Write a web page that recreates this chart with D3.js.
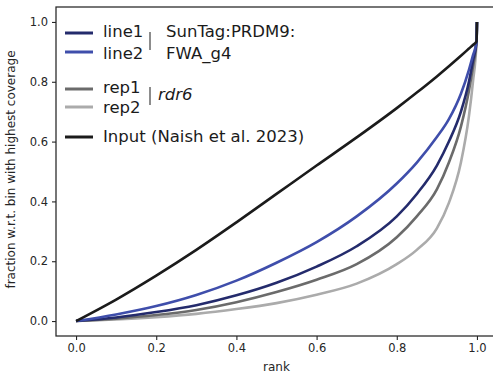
<!DOCTYPE html>
<html>
<head>
<meta charset="utf-8">
<script src="https://cdn.jsdelivr.net/npm/d3@7"></script>
<style>
  body { margin: 0; background: #fff; }
  svg text { font-family: "DejaVu Sans", sans-serif; }
</style>
</head>
<body>
<div id="chart"></div>
<script>
const WIDTH = 493, HEIGHT = 377;
const MARGIN = {left: 56, right: -4, top: 7, bottom: 41};

const rank = [0, 0.1, 0.2, 0.3, 0.4, 0.5, 0.6, 0.7, 0.8, 0.85, 0.9, 0.93, 0.96, 0.98, 0.99, 0.999, 1.0];
const line1 = [0, 0.012, 0.03, 0.053, 0.086, 0.128, 0.182, 0.25, 0.35, 0.425, 0.52, 0.6, 0.7, 0.8, 0.87, 0.935, 1.0];
const line2 = [0, 0.022, 0.05, 0.087, 0.135, 0.195, 0.264, 0.35, 0.46, 0.53, 0.615, 0.675, 0.76, 0.84, 0.888, 0.935, 1.0];
const rep1 = [0, 0.008, 0.02, 0.037, 0.063, 0.097, 0.138, 0.19, 0.28, 0.35, 0.44, 0.53, 0.65, 0.77, 0.85, 0.935, 1.0];
const rep2 = [0, 0.005, 0.013, 0.024, 0.04, 0.06, 0.088, 0.125, 0.19, 0.238, 0.31, 0.395, 0.53, 0.685, 0.8, 0.935, 1.0];
const input = [0, 0.072, 0.152, 0.238, 0.33, 0.425, 0.52, 0.614, 0.712, 0.764, 0.818, 0.852, 0.887, 0.911, 0.923, 0.935, 1.0];

const xTicks = [0, 0.2, 0.4, 0.6, 0.8, 1.0];
const yTicks = [0, 0.2, 0.4, 0.6, 0.8, 1.0];

const series = [
  {name: "rep2", values: rep2, color: "#ababab"},
  {name: "rep1", values: rep1, color: "#6b6b6b"},
  {name: "line1", values: line1, color: "#242b6c"},
  {name: "line2", values: line2, color: "#3f4eab"},
  {name: "input", values: input, color: "#1b1b1b"}
];

const svg = d3.select("#chart").append("svg")
  .attr("width", WIDTH)
  .attr("height", HEIGHT);

const innerW = WIDTH - MARGIN.left - MARGIN.right;
const innerH = HEIGHT - MARGIN.top - MARGIN.bottom;

const x = d3.scaleLinear().domain([-0.05, 1.05]).range([0, innerW]);
const y = d3.scaleLinear().domain([-0.05, 1.05]).range([innerH, 0]);

const g = svg.append("g")
  .attr("transform", `translate(${MARGIN.left},${MARGIN.top})`);

// curves
const line = d3.line()
  .x(d => x(d[0]))
  .y(d => y(d[1]))
  .curve(d3.curveMonotoneX);

series.forEach(s => {
  g.append("path")
    .datum(rank.map((r, i) => [r, s.values[i]]))
    .attr("fill", "none")
    .attr("stroke", s.color)
    .attr("stroke-width", 2.6)
    .attr("stroke-linejoin", "round")
    .attr("d", line);
});

// frame
g.append("rect")
  .attr("width", innerW)
  .attr("height", innerH)
  .attr("fill", "none")
  .attr("stroke", "#262626")
  .attr("stroke-width", 1.25);

// axes
const xAxis = g.append("g")
  .attr("transform", `translate(0,${innerH})`)
  .call(d3.axisBottom(x).tickValues(xTicks).tickFormat(d3.format(".1f")).tickSize(4).tickPadding(4));
const yAxis = g.append("g")
  .call(d3.axisLeft(y).tickValues(yTicks).tickFormat(d3.format(".1f")).tickSize(4).tickPadding(4));

[xAxis, yAxis].forEach(a => {
  a.select(".domain").remove();
  a.selectAll("line").attr("stroke", "#262626").attr("stroke-width", 1.1);
  a.selectAll("text").attr("fill", "#262626").style("font-size", "11.5px");
});

svg.append("text")
  .attr("x", MARGIN.left + x(0.5))
  .attr("y", 371)
  .attr("text-anchor", "middle")
  .attr("fill", "#262626")
  .style("font-size", "12px")
  .text("rank");

svg.append("text")
  .attr("transform", `translate(15,${MARGIN.top + y(0.5) - 2}) rotate(-90)`)
  .attr("text-anchor", "middle")
  .attr("fill", "#262626")
  .style("font-size", "12px")
  .text("fraction w.r.t. bin with highest coverage");

// legend
const legend = svg.append("g");
const legendItems = [
  {label: "line1", color: "#242b6c", y: 33, base: 37},
  {label: "line2", color: "#3f4eab", y: 52, base: 59},
  {label: "rep1", color: "#6b6b6b", y: 89, base: 93},
  {label: "rep2", color: "#ababab", y: 107, base: 113},
  {label: "Input (Naish et al. 2023)", color: "#1b1b1b", y: 137, base: 142}
];
legendItems.forEach(d => {
  legend.append("line")
    .attr("x1", 65).attr("x2", 93)
    .attr("y1", d.y).attr("y2", d.y)
    .attr("stroke", d.color)
    .attr("stroke-width", 3);
  legend.append("text")
    .attr("x", 103).attr("y", d.base)
    .attr("fill", "#1b1b1b")
    .style("font-size", "16.5px")
    .text(d.label);
});

legend.append("line").attr("x1", 150).attr("x2", 150).attr("y1", 32).attr("y2", 50)
  .attr("stroke", "#1b1b1b").attr("stroke-width", 1);
legend.append("line").attr("x1", 150).attr("x2", 150).attr("y1", 87).attr("y2", 105)
  .attr("stroke", "#1b1b1b").attr("stroke-width", 1);

legend.append("text").attr("x", 166).attr("y", 37).attr("fill", "#1b1b1b")
  .style("font-size", "16.5px").text("SunTag:PRDM9:");
legend.append("text").attr("x", 166).attr("y", 59).attr("fill", "#1b1b1b")
  .style("font-size", "16.5px").text("FWA_g4");
legend.append("text").attr("x", 158).attr("y", 100).attr("fill", "#1b1b1b")
  .style("font-size", "16.5px").style("font-style", "italic").text("rdr6");
</script>
</body>
</html>
